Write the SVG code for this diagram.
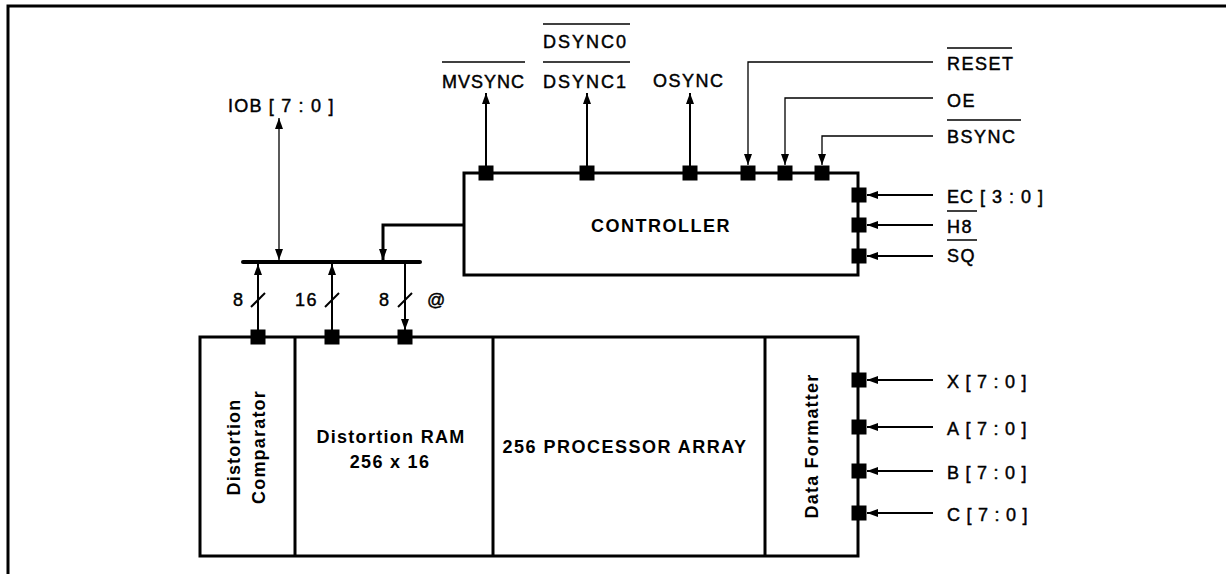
<svg xmlns="http://www.w3.org/2000/svg" width="1226" height="574" viewBox="0 0 1226 574">
<style>
  .box { fill: #ffffff; stroke: #000; stroke-width: 3; }
  .div { stroke: #000; stroke-width: 3; fill: none; }
  .pin { fill: #000; }
  .sig { stroke: #000; stroke-width: 2; fill: none; }
  .thin { stroke: #000; stroke-width: 1.3; fill: none; }
  .thick { stroke: #000; stroke-width: 3; fill: none; }
  .ol { stroke: #000; stroke-width: 1.5; }
  .lbl { font-family: "Liberation Sans", Arial, Helvetica, sans-serif; font-size: 18px; fill: #000; stroke: #000; stroke-width: 0.45px; }
  .blk { font-family: "Liberation Sans", Arial, Helvetica, sans-serif; font-size: 18px; font-weight: bold; fill: #000; text-anchor: middle; }
</style>
<defs>
  <marker id="ah" markerUnits="userSpaceOnUse" markerWidth="11" markerHeight="8" refX="11" refY="4" orient="auto-start-reverse">
    <path d="M0,0 L11,4 L0,8 z" fill="#000"/>
  </marker>
  <rect id="p" x="-7.5" y="-7.5" width="15" height="15" class="pin"/>
</defs>

<g id="frame">
  <path d="M8,574 V6 H1226" fill="none" stroke="#000" stroke-width="3"/>
</g>

<g id="controller">
  <rect class="box" x="464" y="173" width="394" height="102"/>
  <text class="blk" x="661" y="232" style="letter-spacing:1.5px">CONTROLLER</text>
  <use href="#p" x="486" y="173"/>
  <use href="#p" x="587" y="173"/>
  <use href="#p" x="690" y="173"/>
  <use href="#p" x="748" y="173"/>
  <use href="#p" x="785" y="173"/>
  <use href="#p" x="822" y="173"/>
  <use href="#p" x="859" y="195"/>
  <use href="#p" x="859" y="225"/>
  <use href="#p" x="859" y="256"/>
</g>

<g id="array">
  <rect class="box" x="200" y="337" width="658" height="219"/>
  <g id="comparator">
    <line class="div" x1="295" y1="337" x2="295" y2="556"/>
    <text class="blk" transform="translate(240,447) rotate(-90)" style="letter-spacing:1.2px">Distortion</text>
    <text class="blk" transform="translate(265,447) rotate(-90)" style="letter-spacing:1.2px">Comparator</text>
  </g>
  <g id="ram">
    <line class="div" x1="493" y1="337" x2="493" y2="556"/>
    <text class="blk" x="391" y="443" style="letter-spacing:1.3px">Distortion RAM</text>
    <text class="blk" x="390" y="468" style="letter-spacing:1.3px">256 x 16</text>
  </g>
  <g id="processor">
    <line class="div" x1="765" y1="337" x2="765" y2="556"/>
    <text class="blk" x="625" y="453" style="letter-spacing:1.5px">256 PROCESSOR ARRAY</text>
  </g>
  <g id="formatter">
    <text class="blk" transform="translate(818,446) rotate(-90)" style="letter-spacing:1.2px">Data Formatter</text>
  </g>
  <use href="#p" x="258" y="337"/>
  <use href="#p" x="332" y="337"/>
  <use href="#p" x="405" y="337"/>
  <use href="#p" x="859" y="380"/>
  <use href="#p" x="859" y="427"/>
  <use href="#p" x="859" y="471"/>
  <use href="#p" x="859" y="513"/>
</g>

<g id="bus">
  <line x1="243" y1="262" x2="420" y2="262" stroke="#000" stroke-width="4" stroke-linecap="round"/>
</g>

<g id="connectors">
  <line class="sig" x1="486" y1="166" x2="486" y2="93" marker-end="url(#ah)"/>
  <line class="sig" x1="587" y1="166" x2="587" y2="93" marker-end="url(#ah)"/>
  <line class="sig" x1="690" y1="166" x2="690" y2="93" marker-end="url(#ah)"/>
  <path class="thin" d="M933,62 H748 V165" marker-end="url(#ah)"/>
  <path class="thin" d="M933,98 H785 V165" marker-end="url(#ah)"/>
  <path class="thin" d="M933,136 H822 V165" marker-end="url(#ah)"/>
  <path class="sig" d="M933,195 H867" marker-end="url(#ah)"/>
  <path class="sig" d="M933,225 H867" marker-end="url(#ah)"/>
  <path class="sig" d="M933,256 H867" marker-end="url(#ah)"/>
  <path class="sig" d="M933,380 H867" marker-end="url(#ah)"/>
  <path class="sig" d="M933,427 H867" marker-end="url(#ah)"/>
  <path class="sig" d="M933,471 H867" marker-end="url(#ah)"/>
  <path class="sig" d="M933,513 H867" marker-end="url(#ah)"/>
  <line class="thin" x1="279" y1="118" x2="279" y2="260" marker-start="url(#ah)" marker-end="url(#ah)"/>
  <path class="thick" d="M464,225 H383 V260" marker-end="url(#ah)"/>
  <line class="sig" x1="258" y1="330" x2="258" y2="264" marker-end="url(#ah)"/>
  <line class="sig" x1="332" y1="330" x2="332" y2="264" marker-end="url(#ah)"/>
  <line class="sig" x1="405" y1="264" x2="405" y2="330" marker-end="url(#ah)"/>
  <line class="sig" x1="251" y1="307" x2="265" y2="293"/>
  <line class="sig" x1="325" y1="307" x2="339" y2="293"/>
  <line class="sig" x1="398" y1="307" x2="412" y2="293"/>
</g>

<g id="labels">
  <text class="lbl" x="228" y="112" style="letter-spacing:1.2px">IOB [ 7 : 0 ]</text>
  <text class="lbl" x="442" y="88" style="letter-spacing:1px">MVSYNC</text>
  <line class="ol" x1="442" y1="62" x2="525" y2="62"/>
  <text class="lbl" x="543" y="48" style="letter-spacing:2px">DSYNC0</text>
  <line class="ol" x1="543" y1="24" x2="630" y2="24"/>
  <text class="lbl" x="543" y="88" style="letter-spacing:2px">DSYNC1</text>
  <line class="ol" x1="543" y1="62" x2="630" y2="62"/>
  <text class="lbl" x="653" y="87" style="letter-spacing:1.5px">OSYNC</text>
  <text class="lbl" x="947" y="70" style="letter-spacing:1.5px">RESET</text>
  <line class="ol" x1="947" y1="48" x2="1012" y2="48"/>
  <text class="lbl" x="947" y="107" style="letter-spacing:1.5px">OE</text>
  <text class="lbl" x="947" y="143" style="letter-spacing:1.5px">BSYNC</text>
  <line class="ol" x1="947" y1="120" x2="1021" y2="120"/>
  <text class="lbl" x="947" y="203" style="letter-spacing:1px">EC [ 3 : 0 ]</text>
  <text class="lbl" x="947" y="233" style="letter-spacing:1.5px">H8</text>
  <line class="ol" x1="947" y1="211" x2="977" y2="211"/>
  <text class="lbl" x="947" y="262" style="letter-spacing:1.5px">SQ</text>
  <line class="ol" x1="947" y1="240" x2="977" y2="240"/>
  <text class="lbl" x="947" y="388" style="letter-spacing:6.5px">X[7:0]</text>
  <text class="lbl" x="947" y="435" style="letter-spacing:6.5px">A[7:0]</text>
  <text class="lbl" x="947" y="479" style="letter-spacing:6.5px">B[7:0]</text>
  <text class="lbl" x="947" y="521" style="letter-spacing:6.5px">C[7:0]</text>
  <text class="lbl" x="233" y="306">8</text>
  <text class="lbl" x="295" y="306" style="letter-spacing:1.5px">16</text>
  <text class="lbl" x="379" y="306">8</text>
  <text class="lbl" x="427" y="306">@</text>
</g>
</svg>
